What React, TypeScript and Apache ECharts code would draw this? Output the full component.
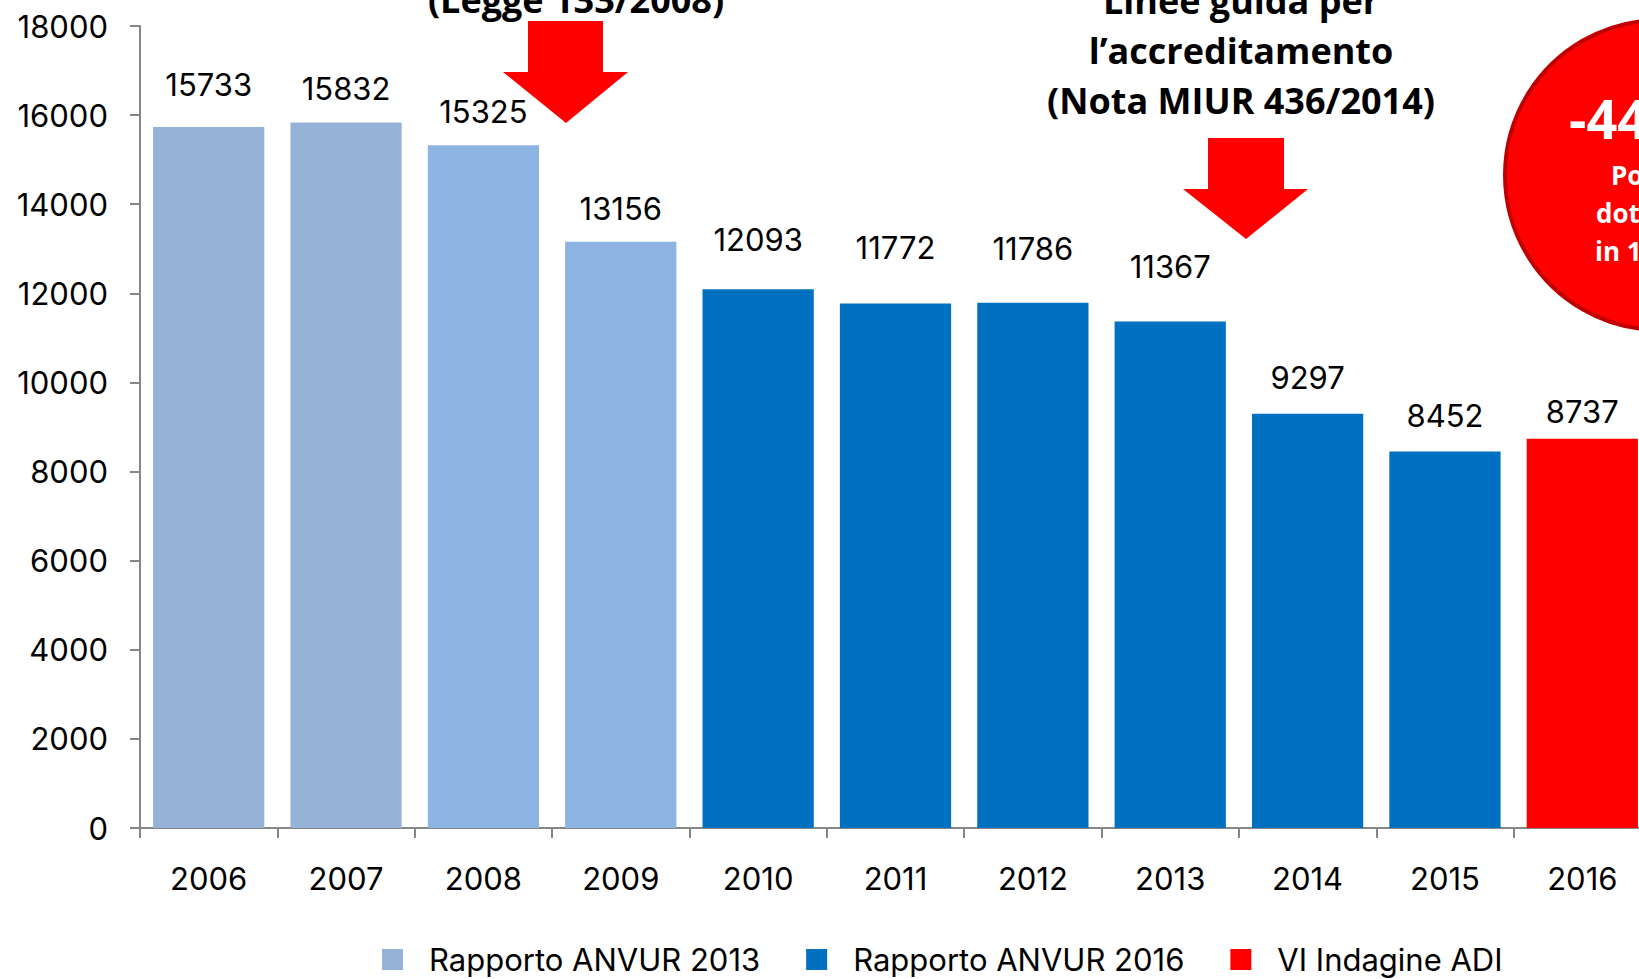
import React, { useEffect, useRef } from "react";
import * as echarts from "echarts";

const categories = ["2006", "2007", "2008", "2009", "2010", "2011", "2012", "2013", "2014", "2015", "2016"];
const anvur2013 = [15733, 15832, 15325, 13156, null, null, null, null, null, null, null];
const anvur2016 = [null, null, null, null, 12093, 11772, 11786, 11367, 9297, 8452, null];
const adi = [null, null, null, null, null, null, null, null, null, null, 8737];
const seriesNames = ["Rapporto ANVUR 2013", "Rapporto ANVUR 2016", "VI Indagine ADI"];
const yTicks = { min: 0, max: 18000, interval: 2000 };

// label gap above each bar (style only), in px
const labelGaps = [27, 19, 18, 18, 34, 40, 39, 40, 21, 20, 12];

const FONT = "Inter";
const BOLD_FONT = "Open Sans";
const CHART_W = 1662;

export default function App() {
  const ref = useRef<HTMLDivElement>(null);
  useEffect(() => {
    if (!ref.current) return;
    const chart = echarts.init(ref.current, null, { renderer: "svg" });
    const baseLabel = {
      show: true,
      position: "top" as const,
      fontSize: 31,
      fontFamily: FONT,
      color: "#000",
    };
    const build = (arr: (number | null)[], altColor?: (i: number) => string | undefined) =>
      arr.map((v, i) => {
        if (v === null) return null;
        const item: any = { value: v, label: { ...baseLabel, distance: labelGaps[i] } };
        const c = altColor ? altColor(i) : undefined;
        if (c) item.itemStyle = { color: c };
        return item;
      });
    chart.setOption({
      animation: false,
      textStyle: { fontFamily: FONT },
      grid: { left: 140, top: 26, right: CHART_W - 1651, bottom: 151 },
      legend: {
        left: 382,
        top: 944,
        padding: 0,
        itemWidth: 21,
        itemHeight: 21,
        itemGap: 46,
        icon: "rect",
        textStyle: { fontSize: 31, fontFamily: FONT, color: "#000", padding: [0, 0, 0, 21] },
        data: seriesNames,
      },
      xAxis: {
        type: "category",
        data: categories,
        axisLine: { lineStyle: { color: "#868686", width: 2 } },
        axisTick: { show: true, length: 10, lineStyle: { color: "#868686", width: 2 } },
        axisLabel: { fontSize: 31, fontFamily: FONT, color: "#000", margin: 35 },
      },
      yAxis: {
        type: "value",
        min: yTicks.min,
        max: yTicks.max,
        interval: yTicks.interval,
        axisLine: { show: true, lineStyle: { color: "#868686", width: 2 } },
        axisTick: { show: true, length: 10, lineStyle: { color: "#868686", width: 2 } },
        splitLine: { show: false },
        axisLabel: { fontSize: 31, fontFamily: FONT, color: "#000", margin: 32, formatter: (v: number) => String(v) },
      },
      series: [
        {
          name: seriesNames[0], type: "bar", stack: "s", barWidth: "81%",
          data: build(anvur2013, (i) => (i >= 2 ? "#8DB3E2" : undefined)),
          itemStyle: { color: "#95B3D7" }, label: baseLabel,
        },
        { name: seriesNames[1], type: "bar", stack: "s", barWidth: "81%", data: build(anvur2016), itemStyle: { color: "#0070C0" }, label: baseLabel },
        { name: seriesNames[2], type: "bar", stack: "s", barWidth: "81%", data: build(adi), itemStyle: { color: "#FF0000" }, label: baseLabel },
      ],
      graphic: [
        {
          type: "text", x: 576, y: -1,
          style: { text: "(Legge 133/2008)", textAlign: "center", textVerticalAlign: "middle", font: `bold 36px "${BOLD_FONT}"`, fill: "#000" },
        },
        {
          type: "polygon",
          shape: { points: [[528, 21], [603, 21], [603, 72], [628, 72], [566, 123], [503, 72], [528, 72]] },
          style: { fill: "#FF0000" },
        },
        {
          type: "text", x: 1241, y: 0,
          style: { text: "Linee guida per", textAlign: "center", textVerticalAlign: "middle", font: `bold 36px "${BOLD_FONT}"`, fill: "#000" },
        },
        {
          type: "text", x: 1241, y: 50,
          style: { text: "l’accreditamento", textAlign: "center", textVerticalAlign: "middle", font: `bold 36px "${BOLD_FONT}"`, fill: "#000" },
        },
        {
          type: "text", x: 1241, y: 100,
          style: { text: "(Nota MIUR 436/2014)", textAlign: "center", textVerticalAlign: "middle", font: `bold 36px "${BOLD_FONT}"`, fill: "#000" },
        },
        {
          type: "polygon",
          shape: { points: [[1208, 138], [1284, 138], [1284, 189], [1308, 189], [1246, 239], [1183, 189], [1208, 189]] },
          style: { fill: "#FF0000" },
        },
        {
          type: "circle",
          shape: { cx: 1660, cy: 175, r: 155 },
          style: { fill: "#FF0000", stroke: "#C00000", lineWidth: 4 },
        },
        {
          type: "text", x: 1569, y: 118,
          style: { text: "-44%", textAlign: "left", textVerticalAlign: "middle", font: `bold 54px "${BOLD_FONT}"`, fill: "#fff" },
        },
        {
          type: "text", x: 1611, y: 175,
          style: { text: "Posti", textAlign: "left", textVerticalAlign: "middle", font: `bold 26px "${BOLD_FONT}"`, fill: "#fff" },
        },
        {
          type: "text", x: 1596, y: 213,
          style: { text: "dottorato", textAlign: "left", textVerticalAlign: "middle", font: `bold 26px "${BOLD_FONT}"`, fill: "#fff" },
        },
        {
          type: "text", x: 1595, y: 251,
          style: { text: "in 10 anni", textAlign: "left", textVerticalAlign: "middle", font: `bold 26px "${BOLD_FONT}"`, fill: "#fff" },
        },
      ],
    });
    return () => chart.dispose();
  }, []);
  return (
    <div style={{ position: "absolute", left: 0, top: 0, width: 1639, height: 979, overflow: "hidden", background: "#fff" }}>
      <div ref={ref} style={{ width: CHART_W, height: 979 }} />
    </div>
  );
}
